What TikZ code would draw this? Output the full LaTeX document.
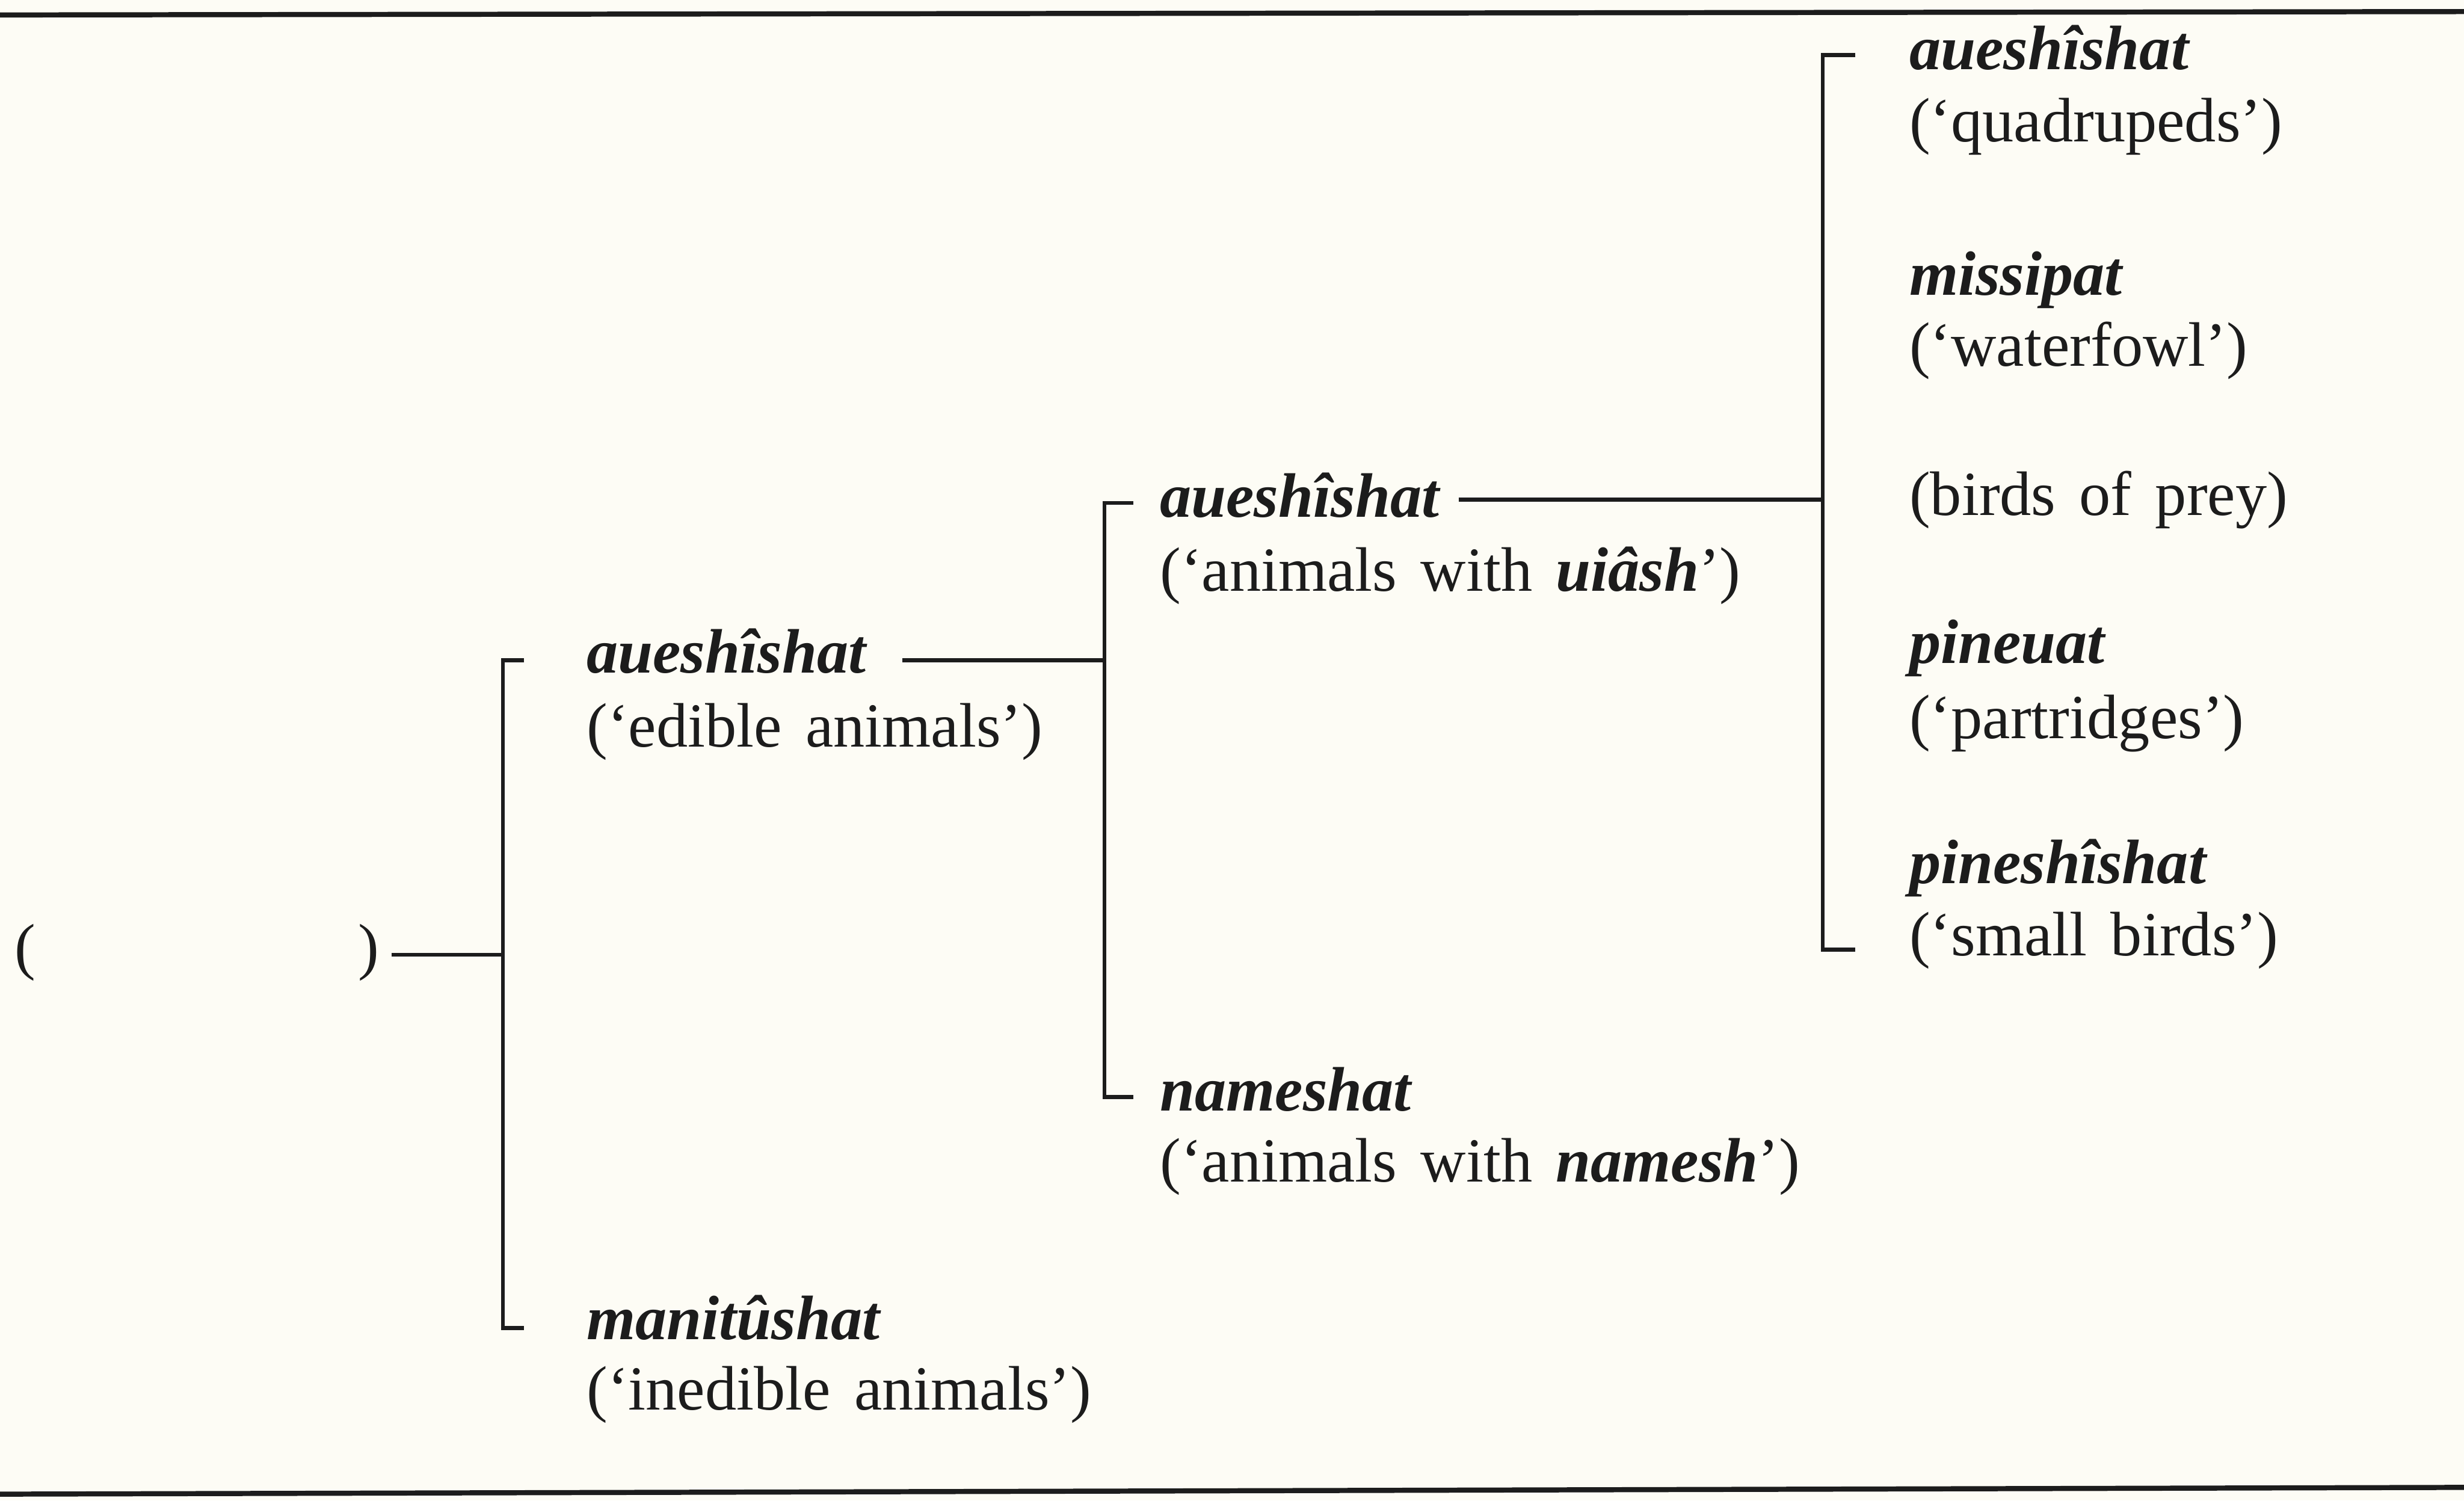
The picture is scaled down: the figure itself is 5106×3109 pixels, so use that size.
\documentclass[tikz,border=0pt]{standalone}
\usepackage{fontspec}
\setmainfont{Liberation Serif}[WordSpace=1.5]
\usetikzlibrary{calc}
\definecolor{paper}{RGB}{253,252,245}
\definecolor{ink}{RGB}{28,28,28}
\begin{document}
\begin{tikzpicture}[x=0.01cm,y=-0.01cm,
  lbl/.style={anchor=base west, inner sep=0pt, text=ink,
    font=\fontsize{37}{44}\selectfont},
  nm/.style={lbl, font=\fontsize{37}{44}\selectfont\bfseries\itshape},
  ln/.style={draw=ink, line width=2.3pt, line cap=butt, line join=miter},
  rulebar/.style={draw=ink, line width=3pt}]
\fill[paper] (0,0) rectangle (5106,3109);
\useasboundingbox (0,0) rectangle (5106,3109);
% rules
\coordinate (tl) at (0,31);
\coordinate (tr) at (5106,24);
\coordinate (bl) at (0,3096);
\coordinate (br) at (5106,3082);
\draw[rulebar] (tl) -- (tr);
\draw[rulebar] (bl) -- (br);
% root
\node[lbl] (lp) at (30,2005) {(};
\node[lbl] (rp) at (742,2005) {)};
% level 1
\node[nm]  (n1) at (1215,1394) {aueshîshat};
\node[lbl] (g1) at (1215,1547) {(‘edible animals’)};
\node[nm]  (n2) at (1215,2775) {manitûshat};
\node[lbl] (g2) at (1215,2921) {(‘inedible animals’)};
% level 2
\node[nm]  (n3) at (2403,1072) {aueshîshat};
\node[lbl] (g3) at (2403,1225) {(‘animals with \textbf{\textit{uiâsh}}’)};
\node[nm]  (n4) at (2403,2302) {nameshat};
\node[lbl] (g4) at (2403,2449) {(‘animals with \textbf{\textit{namesh}}’)};
% level 3
\node[nm]  (n5) at (3956,144) {aueshîshat};
\node[lbl] (g5) at (3956,294) {(‘quadrupeds’)};
\node[nm]  (n6) at (3956,612) {missipat};
\node[lbl] (g6) at (3956,759) {(‘waterfowl’)};
\node[lbl] (g7) at (3956,1068) {(birds of prey)};
\node[nm]  (n8) at (3956,1374) {pineuat};
\node[lbl] (g8) at (3956,1530) {(‘partridges’)};
\node[nm]  (n9) at (3956,1830) {pineshîshat};
\node[lbl] (g9) at (3956,1980) {(‘small birds’)};
% bracket coordinates
\coordinate (j1) at (1042,1978);
\coordinate (b1t) at (1042,1368);
\coordinate (b1b) at (1042,2752);
\coordinate (t1t) at (1086,1368);
\coordinate (t1b) at (1086,2752);
\coordinate (j2) at (2289,1368);
\coordinate (b2t) at (2289,1042);
\coordinate (b2b) at (2289,2273);
\coordinate (t2t) at (2348,1042);
\coordinate (t2b) at (2348,2273);
\coordinate (j3) at (3777,1035);
\coordinate (b3t) at (3777,114);
\coordinate (b3b) at (3777,1968);
\coordinate (t3t) at (3845,114);
\coordinate (t3b) at (3845,1968);
% connector start points next to the labels
\path ($(rp.base east)+(25,0)$) coordinate (s1);
\path ($(n1.base east)+(75,0)$) coordinate (s2);
\path ($(n3.base east)+(40,0)$) coordinate (s3);
% connectors
\draw[ln] (s1 |- j1) -- (j1);
\draw[ln] (t1t) -- (b1t) -- (b1b) -- (t1b);
\draw[ln] (s2 |- j2) -- (j2);
\draw[ln] (t2t) -- (b2t) -- (b2b) -- (t2b);
\draw[ln] (s3 |- j3) -- (j3);
\draw[ln] (t3t) -- (b3t) -- (b3b) -- (t3b);
\end{tikzpicture}
\end{document}
